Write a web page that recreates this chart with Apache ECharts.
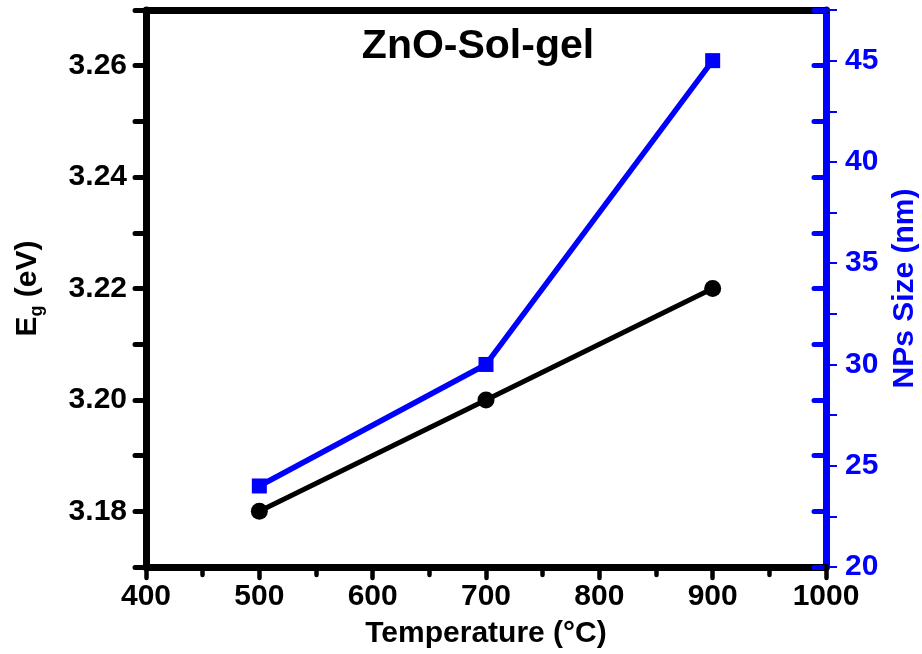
<!DOCTYPE html>
<html><head><meta charset="utf-8">
<script src="https://cdn.jsdelivr.net/npm/echarts@6/dist/echarts.min.js"></script>
<style>html,body{margin:0;padding:0;background:#fff}#c{width:922px;height:654px}</style>
</head><body><div id="c"></div>
<script>
const temperatures = [500, 700, 900];
const bandGap = [3.18, 3.20, 3.22];
const npsSize = [24, 30, 45];
const xTickLabels = ['400', '500', '600', '700', '800', '900', '1000'];
const leftTickLabels = ['3.18', '3.20', '3.22', '3.24', '3.26'];
const rightTickLabels = ['20', '25', '30', '35', '40', '45'];
const chartTitle = 'ZnO-Sol-gel';

const FF = '"Liberation Sans", Arial, Helvetica, sans-serif';
const BLUE = '#0000ff';
const chart = echarts.init(document.getElementById('c'), null, {renderer: 'canvas'});

const labelBase = {fontSize: 30, fontWeight: 'bold', fontFamily: FF};

chart.setOption({
  animation: false,
  backgroundColor: '#fff',
  grid: {left: 146, right: 96, top: 10, bottom: 87, containLabel: false, outerBoundsMode: 'none'},
  graphic: [{
    type: 'text', x: 478, y: 47, z: 100,
    style: {text: chartTitle, fill: '#000', font: 'bold 41px ' + FF, align: 'center', verticalAlign: 'middle', textAlign: 'center', textVerticalAlign: 'middle'}
  }],
  xAxis: [{
    type: 'value', position: 'bottom', min: 400, max: 1000, interval: 100,
    axisLine: {show: true, onZero: false, lineStyle: {color: '#000', width: 7, cap: 'round'}},
    axisTick: {show: true, inside: false, length: 11, lineStyle: {color: '#000', width: 4.5, cap: 'round'}},
    minorTick: {show: true, splitNumber: 2, length: 8, lineStyle: {color: '#000', width: 4.5, cap: 'round'}},
    axisLabel: Object.assign({color: '#000', margin: 15, formatter: v => {
      const s = String(Math.round(v)); return xTickLabels.includes(s) ? s : '';
    }}, labelBase),
    splitLine: {show: false},
    name: 'Temperature (°C)', nameLocation: 'middle', nameGap: 52,
    nameTextStyle: Object.assign({color: '#000'}, labelBase)
  }, {
    type: 'value', position: 'top', min: 400, max: 1000, interval: 100,
    axisLine: {show: true, onZero: false, lineStyle: {color: '#000', width: 7, cap: 'round'}},
    axisTick: {show: false}, axisLabel: {show: false}, splitLine: {show: false}
  }],
  yAxis: [{
    type: 'value', position: 'left', min: 3.17, max: 3.27, interval: 0.01,
    axisLine: {show: true, onZero: false, lineStyle: {color: '#000', width: 7, cap: 'round'}},
    axisTick: {show: true, inside: false, length: 11, lineStyle: {color: '#000', width: 5, cap: 'round'}},
    axisLabel: Object.assign({color: '#000', margin: 19, formatter: v => {
      const s = v.toFixed(2); return leftTickLabels.includes(s) ? s : '';
    }}, labelBase),
    splitLine: {show: false},
    name: '{a|E}{b|g}{a| (eV)}', nameLocation: 'middle', nameGap: 100, nameRotate: 90,
    nameTextStyle: {rich: {
      a: {fontSize: 30, fontWeight: 'bold', fontFamily: FF, color: '#000', lineHeight: 36},
      b: {fontSize: 18, fontWeight: 'bold', fontFamily: FF, color: '#000', lineHeight: 12, verticalAlign: 'bottom'}
    }}
  }, {
    type: 'value', position: 'right', min: 20, max: 47.5, interval: 2.5,
    axisLine: {show: true, onZero: false, lineStyle: {color: BLUE, width: 7, cap: 'round'}},
    axisTick: {show: true, inside: false, length: 11, lineStyle: {color: BLUE, width: 2}},
    axisLabel: Object.assign({color: BLUE, margin: 19, formatter: v => {
      const s = String(Math.round(v * 10) / 10); return rightTickLabels.includes(s) ? s : '';
    }}, labelBase),
    splitLine: {show: false},
    name: 'NPs Size (nm)', nameLocation: 'middle', nameGap: 62, nameRotate: 90,
    nameTextStyle: Object.assign({color: BLUE}, labelBase)
  }, {
    type: 'value', position: 'right', min: 3.17, max: 3.27, interval: 0.01,
    axisLine: {show: false},
    axisTick: {show: true, inside: true, length: 12, lineStyle: {color: BLUE, width: 5, cap: 'round'}},
    axisLabel: {show: false}, splitLine: {show: false}
  }],
  series: [{
    name: 'Eg', type: 'line', xAxisIndex: 0, yAxisIndex: 0,
    data: temperatures.map((t, i) => [t, bandGap[i]]),
    symbol: 'circle', symbolSize: 17,
    lineStyle: {color: '#000', width: 5}, itemStyle: {color: '#000'}, z: 5
  }, {
    name: 'NPs Size', type: 'line', xAxisIndex: 0, yAxisIndex: 1,
    data: temperatures.map((t, i) => [t, npsSize[i]]),
    symbol: 'rect', symbolSize: 15,
    lineStyle: {color: BLUE, width: 5.5}, itemStyle: {color: BLUE}, z: 5
  }]
});
</script></body></html>
